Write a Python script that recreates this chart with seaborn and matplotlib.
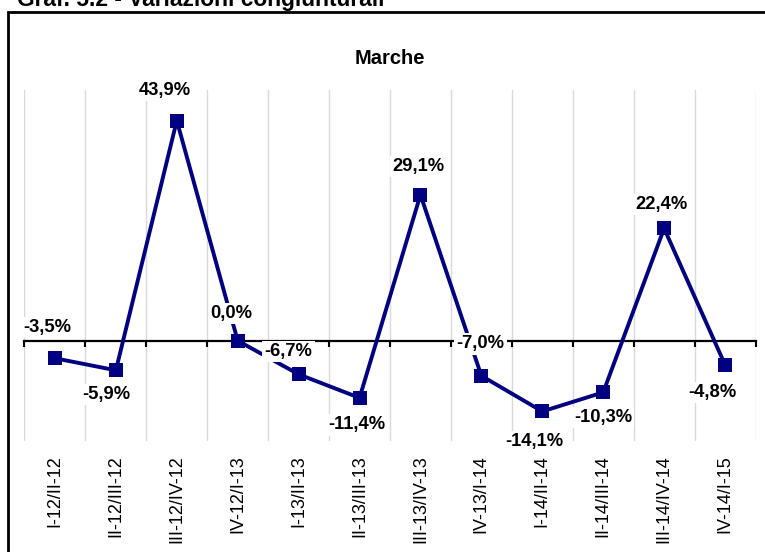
import numpy as np
import pandas as pd
import matplotlib
matplotlib.use('Agg')
import matplotlib.pyplot as plt
import matplotlib.patches as mpatches
import seaborn as sns

# Dati: variazioni congiunturali Marche
periodi = ['I-12/II-12', 'II-12/III-12', 'III-12/IV-12', 'IV-12/I-13',
           'I-13/II-13', 'II-13/III-13', 'III-13/IV-13', 'IV-13/I-14',
           'I-14/II-14', 'II-14/III-14', 'III-14/IV-14', 'IV-14/I-15']
variazioni = [-3.5, -5.9, 43.9, 0.0, -6.7, -11.4, 29.1, -7.0, -14.1, -10.3, 22.4, -4.8]

# spostamento delle etichette (pixel) rispetto al punto
off_etichette = [(-8, 31), (-10, -24), (-12, 30), (-6, 27), (-10, 23), (-3, -27),
                 (-2, 28), (-1, 32), (-8, -30), (0, -25), (-3, 24), (-13, -28)]

sns.set_style('white')
plt.rcParams['font.family'] = ['Liberation Sans', 'DejaVu Sans']
plt.rcParams['text.color'] = 'black'
plt.rcParams['xtick.color'] = 'black'
plt.rcParams['xtick.labelcolor'] = 'black'

df = pd.DataFrame({'pos': np.arange(len(periodi)), 'periodo': periodi, 'variazione': variazioni})

W, H = 765, 552
fig = plt.figure(figsize=(W / 100, H / 100), dpi=100)
ax = fig.add_axes([24.5 / W, 1 - 441 / H, 731 / W, 351 / H])

sns.lineplot(data=df, x='pos', y='variazione', ax=ax, color='#000080',
             lw=2.8, marker='s', markersize=10.5, markeredgecolor='#000080',
             markeredgewidth=0, zorder=3)

ax.set_xlim(-0.5, len(periodi) - 0.5)
ax.set_ylim(-20, 50)
ax.set_xlabel('')
ax.set_ylabel('')
ax.set_yticks([])

# asse x sullo zero, tacche fra le categorie
ax.spines['bottom'].set_position(('data', 0))
ax.spines['bottom'].set_linewidth(1.6)
ax.spines['bottom'].set_color('black')
ax.spines['bottom'].set_zorder(2)
for s in ['left', 'right', 'top']:
    ax.spines[s].set_visible(False)
ax.set_xticks(np.arange(-0.5, len(periodi), 1))
ax.tick_params(axis='x', bottom=True, direction='out', length=4, width=1.5,
               color='black', labelbottom=False)
ax.grid(axis='x', color='#d9d9d9', lw=1)
ax.set_axisbelow(True)

# etichette delle categorie in fondo
sec = ax.secondary_xaxis(0)
sec.spines['bottom'].set_visible(False)
sec.set_xticks(df['pos'])
sec.set_xticklabels(periodi, rotation=90, fontsize=13, va='top', color='black')
sec.tick_params(length=0, pad=10)

# etichette dei valori
for p, v, (dx, dy) in zip(df['pos'], variazioni, off_etichette):
    ax.annotate(f'{v:.1f}%'.replace('.', ','), (p, v), xytext=(dx, dy),
                textcoords='offset pixels', ha='center', va='center',
                fontsize=13.2, fontweight='bold', color='black', zorder=5,
                bbox=dict(boxstyle='square,pad=0.12', fc='white', ec='none'))

fig.text(390 / W, 1 - 58 / H, 'Marche', ha='center', va='center',
         fontsize=14.5, fontweight='bold', color='black')
fig.text(17 / W, 1 - 6 / H, 'Graf. 5.2 - Variazioni congiunturali', ha='left',
         va='baseline', fontsize=16.4, fontweight='bold', color='black')

cornice = mpatches.Rectangle((8 / W, -0.1), 1.2, 1.1 - 12 / H, transform=fig.transFigure,
                             fill=False, ec='black', lw=2, clip_on=False)
fig.patches.append(cornice)

fig.savefig('out.png', dpi=100)
